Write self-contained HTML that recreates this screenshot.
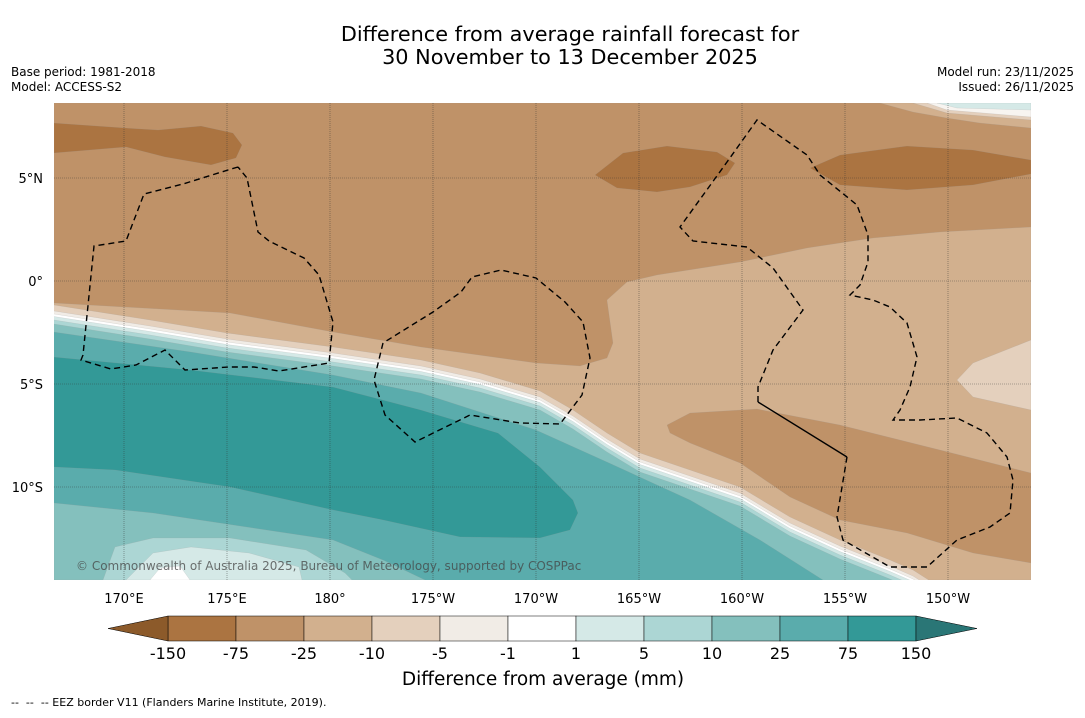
<!DOCTYPE html>
<html><head><meta charset="utf-8">
<style>
body{margin:0;background:#fff;width:1085px;height:713px;overflow:hidden;font-family:"Liberation Sans","DejaVu Sans",sans-serif;}
svg text{font-family:"DejaVu Sans","Liberation Sans",sans-serif;}
</style></head>
<body>
<svg id="s" width="1085" height="713" viewBox="0 0 1085 713" xmlns="http://www.w3.org/2000/svg">
<defs><clipPath id="mc"><rect x="54" y="103" width="977" height="477"/></clipPath></defs>
<text x="570" y="41" text-anchor="middle" font-size="20.8" fill="#000">Difference from average rainfall forecast for</text>
<text x="570" y="64" text-anchor="middle" font-size="20.8" fill="#000">30 November to 13 December 2025</text>
<text x="11" y="76" font-size="12">Base period: 1981-2018</text>
<text x="11" y="91" font-size="12">Model: ACCESS-S2</text>
<text x="1074" y="76" font-size="12" text-anchor="end">Model run: 23/11/2025</text>
<text x="1074" y="91" font-size="12" text-anchor="end">Issued: 26/11/2025</text>
<g id="map" clip-path="url(#mc)"></g>
<g id="axes"></g>
<g id="cbar"></g>
<text x="543" y="685" text-anchor="middle" font-size="18.5">Difference from average (mm)</text>
<text x="11" y="706" font-size="11" xml:space="preserve">--  --  -- EEZ border V11 (Flanders Marine Institute, 2019).</text>
</svg>
<script>
// Colorbar data
const levels = ["-150","-75","-25","-10","-5","-1","1","5","10","25","75","150"];
const binColors = ["#ab7441","#bf9268","#d2b08e","#e4d0bd","#f1ece6","#ffffff","#d5e9e7","#acd6d4","#84c0bd","#5aacac","#339997"];
const extColors = ["#8c5a2a","#2a7676"];
// Axis ticks
const lonTicks = ["170°E","175°E","180°","175°W","170°W","165°W","160°W","155°W","150°W"];
const lonVals = [170,175,180,185,190,195,200,205,210];
const latTicks = ["5°N","0°","5°S","10°S"];
const latVals = [5,0,-5,-10];

const NS="http://www.w3.org/2000/svg";
const lonX = l => 124 + (l-170)*20.6;
const latY = l => 281 - l*20.6;
const map=document.getElementById('map'), axes=document.getElementById('axes'), cb=document.getElementById('cbar');
function mk(tag,attrs,parent){const e=document.createElementNS(NS,tag);for(const k in attrs)e.setAttribute(k,attrs[k]);parent.appendChild(e);return e;}
function poly(pts,fill,name){const e=mk('polygon',{points:pts.map(p=>p.join(',')).join(' '),fill:fill,stroke:"#999","stroke-width":0.3,"stroke-opacity":0.5},map);


return e;}

poly([[54,103],[1031,103],[1031,580],[54,580]],"#bf9268","bg-moderate-dry");
poly([[54,123],[126,128],[158,130],[201,126],[233,133],[242,145],[236,158],[211,165],[165,157],[126,147],[54,153]],"#ab7441","dry-blob-west");
poly([[595,175],[623,153],[667,146],[717,152],[735,163],[727,175],[690,187],[657,192],[617,188]],"#ab7441","dry-blob-central");
poly([[810,168],[840,155],[907,146],[973,150],[1031,160],[1031,174],[973,185],[907,190],[840,185]],"#ab7441","dry-blob-east");
poly([[880,103],[913,112],[947,118],[980,123],[1031,128],[1031,103]],"#d2b08e","ne-band1");
poly([[913,103],[947,113],[1031,120],[1031,103]],"#e4d0bd","ne-band2");
poly([[927,103],[947,110],[1031,117],[1031,103]],"#f7f4f0","ne-band3");
poly([[937,103],[957,108],[1031,110],[1031,103]],"#d5e9e7","ne-band4");
poly([[54,303],[230,313],[333,332],[421,347],[536,363],[580,366],[607,358],[613,343],[607,300],[627,282],[657,275],[740,262],[807,248],[873,238],[940,232],[1031,227],[1031,580],[54,580]],"#d2b08e","light-dry-region");
poly([[957,380],[973,363],[1031,340],[1031,410],[973,397]],"#e4d0bd","very-light-dry-blob");
poly([[667,425],[690,413],[757,409],[840,425],[940,450],[1031,473],[1031,563],[973,553],[907,533],[840,520],[790,497],[740,463],[690,443],[670,433]],"#bf9268","dry-blob-southeast");
const front=[[54,315],[150,330],[227,343],[333,357],[421,370],[480,383],[540,401],[573,420],[607,443],[640,463],[690,480],[740,497],[790,527],[840,550],[890,570],[913,580],[960,610]];
function band(d,fill,name){const p=front.map(q=>[q[0],q[1]+d]);p.unshift([0,front[0][1]+d]);p.push([1100,700],[0,700]);poly(p,fill,name);}
band(-10,"#e4d0bd","band-minus10");
band(-4,"#f1ece6","band-minus5");
band(-1,"#ffffff","band-neutral");
band(1.5,"#d5e9e7","band-plus1");
band(5,"#acd6d4","band-plus5");
band(9,"#84c0bd","band-plus10");
poly([[0,332],[54,332],[191,352],[333,375],[421,393],[536,430],[607,462],[690,500],[760,540],[823,580],[823,700],[0,700]],"#5aacac","wet-region-25");
poly([[54,357],[191,370],[333,387],[421,410],[498,433],[540,467],[573,500],[578,513],[570,530],[540,538],[460,537],[383,520],[333,510],[230,487],[115,470],[54,467]],"#339997","wet-region-75");
poly([[54,503],[153,513],[333,540],[383,560],[425,580],[54,580]],"#84c0bd","wet-sw-10");
poly([[103,580],[115,547],[153,538],[230,538],[306,550],[345,573],[352,580]],"#acd6d4","wet-sw-5");
poly([[126,580],[153,553],[191,547],[249,553],[299,567],[302,580]],"#d5e9e7","wet-sw-1");
poly([[150,580],[160,568],[180,566],[190,580]],"#ffffff","neutral-sw");

lonVals.forEach((v,i)=>{const x=lonX(v);
const l=mk('line',{x1:x,y1:103,x2:x,y2:580,stroke:"#333","stroke-width":0.6,"stroke-dasharray":"1,1","stroke-opacity":0.7},map);


const t=mk('text',{x:x,y:603,"text-anchor":"middle","font-size":13},axes);t.textContent=lonTicks[i];

});
latVals.forEach((v,i)=>{const y=latY(v);
const l=mk('line',{x1:54,y1:y,x2:1031,y2:y,stroke:"#333","stroke-width":0.6,"stroke-dasharray":"1,1","stroke-opacity":0.7},map);


const t=mk('text',{x:43,y:y+5,"text-anchor":"end","font-size":13},axes);t.textContent=latTicks[i];

});

const eez=[
[[238,167],[228,170],[183,184],[144,194],[126,241],[94,246],[83,355],[81,360],[111,369],[136,365],[165,350],[185,370],[229,367],[254,367],[279,371],[329,363],[333,322],[319,275],[304,258],[269,241],[258,232],[247,178],[238,167]],
[[383,343],[374,380],[385,415],[415,442],[470,415],[520,423],[560,424],[582,395],[590,358],[583,322],[565,302],[536,278],[501,270],[472,277],[461,292],[433,312],[383,343]],
[[758,402],[758,387],[773,350],[803,310],[773,268],[747,247],[693,241],[680,227],[727,162],[757,120],[807,155],[820,175],[857,205],[868,235],[868,262],[860,285],[850,295],[873,300],[890,307],[907,323],[917,357],[910,387],[900,410],[893,420],[920,420],[957,418],[987,433],[1007,457],[1013,480],[1010,513],[990,527],[957,540],[927,567],[890,567],[843,540],[837,517],[847,457]]
];
eez.forEach(p=>{const e=mk('polyline',{points:p.map(q=>q.join(',')).join(' '),fill:"none",stroke:"#000","stroke-width":1.4,"stroke-dasharray":"6,4"},map);

});
const sl=mk('line',{x1:847,y1:457,x2:758,y2:402,stroke:"#000","stroke-width":1.4},map);



const cp=mk('text',{x:76,y:570,"font-size":12,fill:"#444","fill-opacity":0.75},map);cp.textContent="© Commonwealth of Australia 2025, Bureau of Meteorology, supported by COSPPac";



const cx0=168, cw=68, cy=616, ch=25;
binColors.forEach((c,i)=>{const r=mk('rect',{x:cx0+i*cw,y:cy,width:cw,height:ch,fill:c,stroke:"#000","stroke-width":0.5},cb);

});
const tl=mk('polygon',{points:`${cx0},${cy} 108,${cy+ch/2} ${cx0},${cy+ch}`,fill:extColors[0],stroke:"#000","stroke-width":0.5},cb);


const xe=cx0+binColors.length*cw;
const tr=mk('polygon',{points:`${xe},${cy} 977,${cy+ch/2} ${xe},${cy+ch}`,fill:extColors[1],stroke:"#000","stroke-width":0.5},cb);


levels.forEach((v,i)=>{const t=mk('text',{x:cx0+i*cw,y:659,"text-anchor":"middle","font-size":16},cb);t.textContent=v;

});
</script>
</body></html>
